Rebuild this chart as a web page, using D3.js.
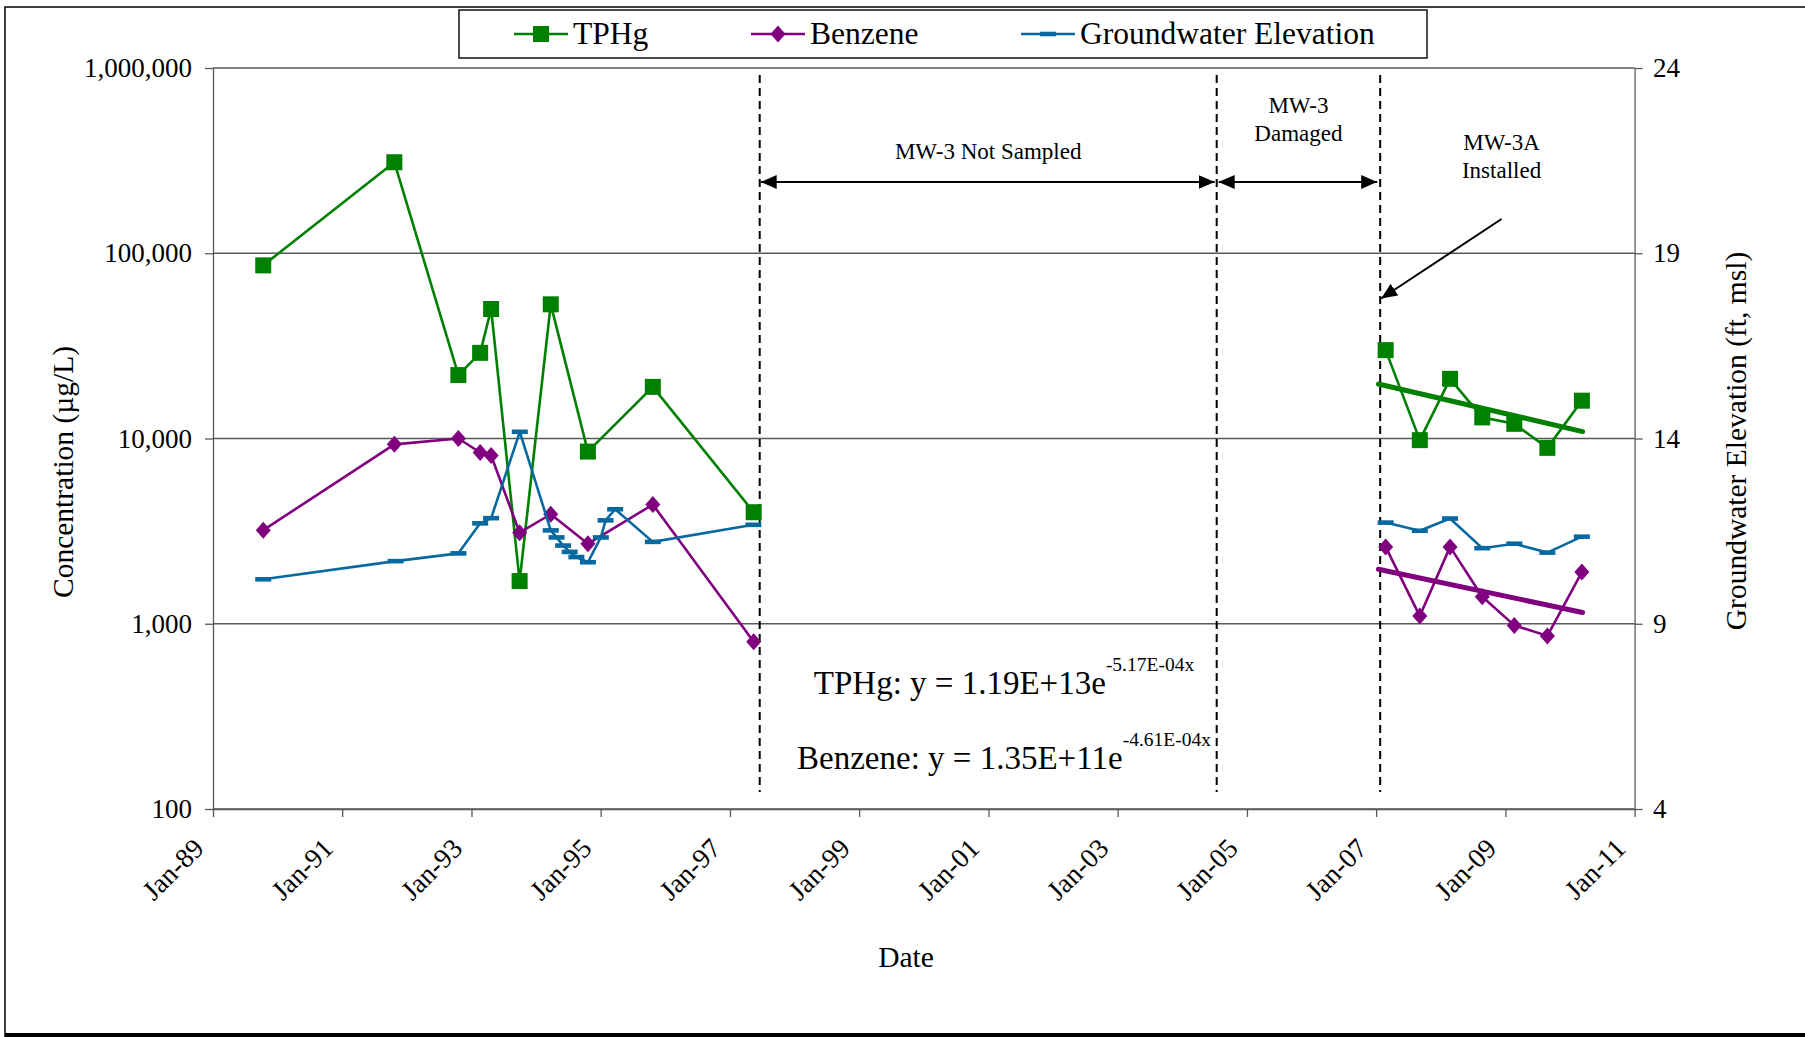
<!DOCTYPE html>
<html>
<head>
<meta charset="utf-8">
<script src="https://cdnjs.cloudflare.com/ajax/libs/d3/7.8.5/d3.min.js"></script>
<style>
  html, body { margin: 0; padding: 0; background: #fff; }
  svg { display: block; font-family: "Liberation Serif", "Times New Roman", serif; }
</style>
</head>
<body>
<svg id="chart" width="1805" height="1037"></svg>
<script>
// ---- data ----
// TPHg / benzene sampling events (ug/L); MW-3 until 1997, MW-3A from 2007
var chemDates = ['1989-10-12', '1991-10-23', '1992-10-19', '1993-02-19', '1993-04-22', '1993-09-30',
  '1994-03-25', '1994-10-21', '1995-10-23', '1997-05-15',
  '2007-02-24', '2007-09-05', '2008-02-23', '2008-08-23', '2009-02-20', '2009-08-26', '2010-03-09'];
var chemWells = ['MW-3', 'MW-3', 'MW-3', 'MW-3', 'MW-3', 'MW-3', 'MW-3', 'MW-3', 'MW-3', 'MW-3',
  'MW-3A', 'MW-3A', 'MW-3A', 'MW-3A', 'MW-3A', 'MW-3A', 'MW-3A'];
var tphg = [86000, 310000, 22000, 29000, 50000, 1700, 53000, 8500, 19000, 4000,
  30000, 9800, 21000, 13000, 12000, 8900, 16000];
var benzene = [3200, 9300, 10000, 8400, 8100, 3100, 3900, 2700, 4400, 800,
  2600, 1100, 2600, 1400, 980, 860, 1900];

// groundwater elevation (ft, msl)
var gwDates = ['1989-10-12', '1991-10-30', '1992-10-19', '1993-02-19', '1993-04-22', '1993-10-01',
  '1994-03-25', '1994-04-27', '1994-06-03', '1994-07-10', '1994-08-17', '1994-10-21',
  '1995-01-02', '1995-01-29', '1995-03-24', '1995-10-23', '1997-05-13',
  '2007-02-24', '2007-09-05', '2008-02-23', '2008-08-23', '2009-02-20', '2009-08-26', '2010-03-09'];
var gwWells = ['MW-3', 'MW-3', 'MW-3', 'MW-3', 'MW-3', 'MW-3', 'MW-3', 'MW-3', 'MW-3', 'MW-3', 'MW-3', 'MW-3',
  'MW-3', 'MW-3', 'MW-3', 'MW-3', 'MW-3',
  'MW-3A', 'MW-3A', 'MW-3A', 'MW-3A', 'MW-3A', 'MW-3A', 'MW-3A'];
var gwElev = [10.20, 10.69, 10.90, 11.71, 11.85, 14.18, 11.52, 11.33, 11.11, 10.94, 10.80, 10.66,
  11.33, 11.79, 12.09, 11.21, 11.67,
  11.73, 11.51, 11.84, 11.04, 11.16, 10.92, 11.35];

// exponential trendlines (MW-3A), end points
var trendDates = ['2007-01-14', '2010-03-13'];
var tphgTrend = [19700, 10900];
var benzeneTrend = [1970, 1150];
var trendLabels = ['TPHg: y = 1.19E+13e', 'Benzene: y = 1.35E+11e'];
var trendExps = ['-5.17E-04x', '-4.61E-04x'];

// well history
var eventDates = ['1997-06-18', '2004-07-14', '2007-01-24'];
var calloutDates = ['2008-12-10', '2007-01-24'];
var calloutValues = [153000, 57000];

// axes
var xTickLabels = ['Jan-89', 'Jan-91', 'Jan-93', 'Jan-95', 'Jan-97', 'Jan-99',
  'Jan-01', 'Jan-03', 'Jan-05', 'Jan-07', 'Jan-09', 'Jan-11'];
var concTicks = [100, 1000, 10000, 100000, 1000000];
var elevTicks = [4, 9, 14, 19, 24];

// ---- chart ----
var colors = {tphg: '#008000', benzene: '#800080', gw: '#0868a0'};
var plot = {left: 213, right: 1634.6, top: 68, bottom: 809};
var parseDate = d3.timeParse('%Y-%m-%d');
var parseTick = d3.timeParse('%b-%y');
var xTicks = xTickLabels.map(parseTick);

var svg = d3.select('#chart');

var x = d3.scaleTime()
  .domain([xTicks[0], xTicks[xTicks.length - 1]])
  .range([plot.left, plot.right]);
var yConc = d3.scaleLog()
  .domain([concTicks[0], concTicks[concTicks.length - 1]])
  .range([plot.bottom, plot.top]);
var yElev = d3.scaleLinear()
  .domain([elevTicks[0], elevTicks[elevTicks.length - 1]])
  .range([plot.bottom, plot.top]);

var chem = chemDates.map(function(d, i) {
  return {date: parseDate(d), well: chemWells[i], tphg: tphg[i], benzene: benzene[i]};
});
var gw = gwDates.map(function(d, i) {
  return {date: parseDate(d), well: gwWells[i], value: gwElev[i]};
});

// outer chart border
svg.append('path')
  .attr('d', 'M5,1037 L5,7 L1805,7')
  .attr('fill', 'none').attr('stroke', '#000').attr('stroke-width', 1.5);
svg.append('line')
  .attr('x1', 5).attr('x2', 1805).attr('y1', 1035).attr('y2', 1035)
  .attr('stroke', '#000').attr('stroke-width', 4);

// gridlines
svg.append('g').selectAll('line')
  .data(concTicks)
  .enter().append('line')
  .attr('x1', plot.left).attr('x2', plot.right)
  .attr('y1', function(d) { return yConc(d); })
  .attr('y2', function(d) { return yConc(d); })
  .attr('stroke', '#595959').attr('stroke-width', 1.3);

// axes
var axisFont = 27;

var leftAxis = svg.append('g')
  .attr('transform', 'translate(' + plot.left + ',0)')
  .call(d3.axisLeft(yConc).tickValues(concTicks).tickFormat(d3.format(','))
    .tickSize(8).tickSizeOuter(0).tickPadding(13));

var rightAxis = svg.append('g')
  .attr('transform', 'translate(' + plot.right + ',0)')
  .call(d3.axisRight(yElev).tickValues(elevTicks).tickFormat(d3.format('d'))
    .tickSize(8).tickSizeOuter(0).tickPadding(10.5));

var bottomAxis = svg.append('g')
  .attr('transform', 'translate(0,' + plot.bottom + ')')
  .call(d3.axisBottom(x).tickValues(xTicks).tickFormat(d3.timeFormat('%b-%y'))
    .tickSize(8).tickSizeOuter(0));

bottomAxis.selectAll('text')
  .attr('x', null).attr('y', null).attr('dy', null)
  .attr('text-anchor', 'end')
  .attr('transform', 'translate(-8,41) rotate(-45)')
  .style('font-size', '27.5px');

[leftAxis, rightAxis, bottomAxis].forEach(function(g) {
  g.selectAll('.domain').attr('stroke', '#595959').attr('stroke-width', 1.3);
  g.selectAll('.tick line').attr('stroke', '#595959').attr('stroke-width', 1.3);
  g.selectAll('text').attr('fill', '#000').style('font-family', 'Liberation Serif');
});
leftAxis.selectAll('text').style('font-size', axisFont + 'px');
rightAxis.selectAll('text').style('font-size', axisFont + 'px');

// axis titles
svg.append('text')
  .attr('transform', 'translate(73,472) rotate(-90)')
  .attr('text-anchor', 'middle')
  .style('font-size', '29.5px')
  .text('Concentration (\u00b5g/L)');

svg.append('text')
  .attr('transform', 'translate(1746,441) rotate(-90)')
  .attr('text-anchor', 'middle')
  .style('font-size', '29.5px')
  .text('Groundwater Elevation (ft, msl)');

svg.append('text')
  .attr('x', 906).attr('y', 967)
  .attr('text-anchor', 'middle')
  .style('font-size', '29.5px')
  .text('Date');

// well history markers
svg.append('g').selectAll('line')
  .data(eventDates)
  .enter().append('line')
  .attr('x1', function(d) { return x(parseDate(d)); })
  .attr('x2', function(d) { return x(parseDate(d)); })
  .attr('y1', 75).attr('y2', 792)
  .attr('stroke', '#000').attr('stroke-width', 2)
  .attr('stroke-dasharray', '8,5');

var defs = svg.append('defs');
defs.append('marker')
  .attr('id', 'head')
  .attr('markerUnits', 'userSpaceOnUse')
  .attr('viewBox', '0 0 16 14')
  .attr('refX', 16).attr('refY', 7)
  .attr('markerWidth', 16).attr('markerHeight', 14)
  .attr('orient', 'auto-start-reverse')
  .append('path').attr('d', 'M0,0 L16,7 L0,14 Z').attr('fill', '#000');

var spanY = 182;
var ev = eventDates.map(function(d) { return x(parseDate(d)); });
svg.append('line')
  .attr('x1', ev[0] + 1).attr('x2', ev[1] - 2).attr('y1', spanY).attr('y2', spanY)
  .attr('stroke', '#000').attr('stroke-width', 2.2)
  .attr('marker-start', 'url(#head)').attr('marker-end', 'url(#head)');
svg.append('line')
  .attr('x1', ev[1] + 2).attr('x2', ev[2] - 3).attr('y1', spanY).attr('y2', spanY)
  .attr('stroke', '#000').attr('stroke-width', 2.2)
  .attr('marker-start', 'url(#head)').attr('marker-end', 'url(#head)');

var cx0 = x(parseDate(calloutDates[0])), cy0 = yConc(calloutValues[0]);
var cx1 = x(parseDate(calloutDates[1])), cy1 = yConc(calloutValues[1]);
svg.append('line')
  .attr('x1', cx0).attr('y1', cy0).attr('x2', cx1 + 1).attr('y2', cy1)
  .attr('stroke', '#000').attr('stroke-width', 2)
  .attr('marker-end', 'url(#head)');

var noteFont = '23px';
svg.append('text')
  .attr('x', (ev[0] + ev[1]) / 2).attr('y', 159)
  .attr('text-anchor', 'middle').style('font-size', noteFont)
  .text('MW-3 Not Sampled');
var damaged = svg.append('text')
  .attr('text-anchor', 'middle').style('font-size', noteFont);
damaged.append('tspan').attr('x', (ev[1] + ev[2]) / 2).attr('y', 113).text('MW-3');
damaged.append('tspan').attr('x', (ev[1] + ev[2]) / 2).attr('y', 141).text('Damaged');
var installed = svg.append('text')
  .attr('text-anchor', 'middle').style('font-size', noteFont);
installed.append('tspan').attr('x', cx0).attr('y', 150).text('MW-3A');
installed.append('tspan').attr('x', cx0).attr('y', 178).text('Installed');

// trend equations
var eqY = [694, 769];
trendLabels.forEach(function(label, i) {
  var t = svg.append('text')
    .attr('x', 1004).attr('y', eqY[i])
    .attr('text-anchor', 'middle')
    .style('font-size', '33px');
  t.append('tspan').text(label);
  t.append('tspan').attr('dy', -23).style('font-size', '19.5px').text(trendExps[i]);
});

// series
function drawSeries(data, xf, yf, color) {
  var line = d3.line().x(xf).y(yf);
  var groups = d3.groups(data, function(d) { return d.well; });
  svg.append('g').selectAll('path')
    .data(groups)
    .enter().append('path')
    .attr('d', function(g) { return line(g[1]); })
    .attr('fill', 'none').attr('stroke', color).attr('stroke-width', 2.6)
    .attr('stroke-linejoin', 'round');
}

function xDate(d) { return x(d.date); }

drawSeries(chem, xDate, function(d) { return yConc(d.tphg); }, colors.tphg);
svg.append('g').selectAll('rect')
  .data(chem)
  .enter().append('rect')
  .attr('x', function(d) { return x(d.date) - 8; })
  .attr('y', function(d) { return yConc(d.tphg) - 8; })
  .attr('width', 16).attr('height', 16)
  .attr('fill', colors.tphg);

drawSeries(chem, xDate, function(d) { return yConc(d.benzene); }, colors.benzene);
var diamond = 'M0,-8.5 L7.5,0 L0,8.5 L-7.5,0 Z';
svg.append('g').selectAll('path')
  .data(chem)
  .enter().append('path')
  .attr('d', diamond)
  .attr('transform', function(d) { return 'translate(' + x(d.date) + ',' + yConc(d.benzene) + ')'; })
  .attr('fill', colors.benzene);

// trendlines
var trendX = trendDates.map(function(d) { return x(parseDate(d)); });
[[tphgTrend, colors.tphg], [benzeneTrend, colors.benzene]].forEach(function(tr) {
  svg.append('line')
    .attr('x1', trendX[0]).attr('x2', trendX[1])
    .attr('y1', yConc(tr[0][0])).attr('y2', yConc(tr[0][1]))
    .attr('stroke', tr[1]).attr('stroke-width', 5).attr('stroke-linecap', 'round');
});

drawSeries(gw, xDate, function(d) { return yElev(d.value); }, colors.gw);
svg.append('g').selectAll('rect')
  .data(gw)
  .enter().append('rect')
  .attr('x', function(d) { return x(d.date) - 8; })
  .attr('y', function(d) { return yElev(d.value) - 2.3; })
  .attr('width', 16).attr('height', 4.6)
  .attr('fill', colors.gw);

// legend
var legend = svg.append('g');
legend.append('rect')
  .attr('x', 459).attr('y', 10).attr('width', 968).attr('height', 48)
  .attr('fill', '#fff').attr('stroke', '#000').attr('stroke-width', 1.4);

var legendItems = [
  {name: 'TPHg', color: colors.tphg, x: 514, shape: 'square'},
  {name: 'Benzene', color: colors.benzene, x: 751, shape: 'diamond'},
  {name: 'Groundwater Elevation', color: colors.gw, x: 1021, shape: 'dash'}
];
legendItems.forEach(function(it) {
  var g = legend.append('g').attr('transform', 'translate(' + it.x + ',34)');
  g.append('line').attr('x1', 0).attr('x2', 54).attr('stroke', it.color).attr('stroke-width', 2.6);
  if (it.shape === 'square') {
    g.append('rect').attr('x', 27 - 8).attr('y', -8).attr('width', 16).attr('height', 16).attr('fill', it.color);
  } else if (it.shape === 'diamond') {
    g.append('path').attr('d', diamond).attr('transform', 'translate(27,0)').attr('fill', it.color);
  } else {
    g.append('rect').attr('x', 27 - 8).attr('y', -2.3).attr('width', 16).attr('height', 4.6).attr('fill', it.color);
  }
  g.append('text').attr('x', 59).attr('y', 10)
    .style('font-size', '31.5px').text(it.name);
});
</script>
</body>
</html>
